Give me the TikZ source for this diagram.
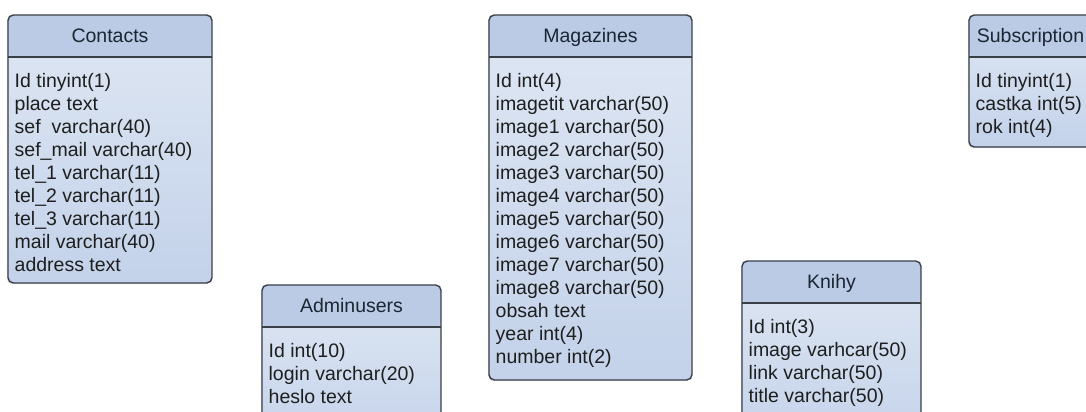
\documentclass[tikz,border=0pt]{standalone}
\usepackage{fontspec}
\setmainfont{Liberation Sans}
\usetikzlibrary{positioning, calc, shadows}

\definecolor{headblue}{HTML}{BBCBE6}
\definecolor{bodytop}{HTML}{DFE7F3}
\definecolor{bodybot}{HTML}{C3D2EA}
\definecolor{tblline}{HTML}{383F47}
\definecolor{fieldtext}{HTML}{1E1E1E}
\definecolor{titletext}{HTML}{1B2633}

\begin{document}
\begin{tikzpicture}[
  x=0.02cm, y=-0.02cm,
  font=\fontsize{11.1pt}{13pt}\selectfont,
  dbtable/.style 2 args={rectangle, draw=tblline, line width=0.8pt, rounded corners=3pt,
              top color=bodytop, bottom color=bodybot, inner sep=0pt,
              minimum width=#1, minimum height=#2,
              drop shadow={shadow xshift=-0.7pt, shadow yshift=-0.7pt, opacity=0.2},
              path picture={
                \fill[headblue] (path picture bounding box.north west)
                  rectangle ([yshift=-0.84cm]path picture bounding box.north east);
                \draw[tblline, line width=0.7pt] ([yshift=-0.84cm]path picture bounding box.north west)
                  -- ([yshift=-0.84cm]path picture bounding box.north east);
              }},
  title/.style={minimum height=0.84cm, inner sep=0pt, text height=8pt, text depth=0pt, text=titletext},
  field/.style={anchor=west, inner sep=0pt, text height=8pt, text depth=0pt, text=fieldtext},
]
\clip (0,0) rectangle (1086,412);
\fill[white] (0,0) rectangle (1086,412);

% ---------- tables (centres and sizes in px) ----------
\node[dbtable={4.08cm}{5.36cm}] (contacts)     at (110,149)     {};
\node[dbtable={4.06cm}{7.30cm}] (magazines)    at (590.5,197.5) {};
\node[dbtable={3.58cm}{3.30cm}] (adminusers)   at (351.5,367.5) {};
\node[dbtable={3.58cm}{3.78cm}] (knihy)        at (831.5,355.5) {};
\node[dbtable={2.46cm}{2.64cm}] (subscription) at (1030.5,81)   {};

% ---------- headers ----------
\node[title, below=0pt of contacts.north]     (contacts-t)     {Contacts};
\node[title, below=0pt of magazines.north]    (magazines-t)    {Magazines};
\node[title, below=0pt of adminusers.north]   (adminusers-t)   {Adminusers};
\node[title, below=0pt of knihy.north]        (knihy-t)        {Knihy};
\node[title, below=0pt of subscription.north] (subscription-t) {Subscription};

% ---------- columns ----------
\foreach \f [count=\i] in {Id tinyint(1), place text, sef~ varchar(40), sef\_mail varchar(40),
    tel\_1 varchar(11), tel\_2 varchar(11), tel\_3 varchar(11), mail varchar(40), address text}
  \node[field] (contacts-\i) at ($(contacts.north west)+(7,{43+23*\i})$) {\f};

\foreach \f [count=\i] in {Id int(4), imagetit varchar(50), image1 varchar(50), image2 varchar(50),
    image3 varchar(50), image4 varchar(50), image5 varchar(50), image6 varchar(50),
    image7 varchar(50), image8 varchar(50), obsah text, year int(4), number int(2)}
  \node[field] (magazines-\i) at ($(magazines.north west)+(7,{43+23*\i})$) {\f};

\foreach \f [count=\i] in {Id int(10), login varchar(20), heslo text}
  \node[field] (adminusers-\i) at ($(adminusers.north west)+(7,{43+23*\i})$) {\f};

\foreach \f [count=\i] in {Id int(3), image varhcar(50), link varchar(50), title varchar(50)}
  \node[field] (knihy-\i) at ($(knihy.north west)+(7,{43+23*\i})$) {\f};

\foreach \f [count=\i] in {Id tinyint(1), castka int(5), rok int(4)}
  \node[field] (subscription-\i) at ($(subscription.north west)+(7,{43+23*\i})$) {\f};

\end{tikzpicture}
\end{document}
